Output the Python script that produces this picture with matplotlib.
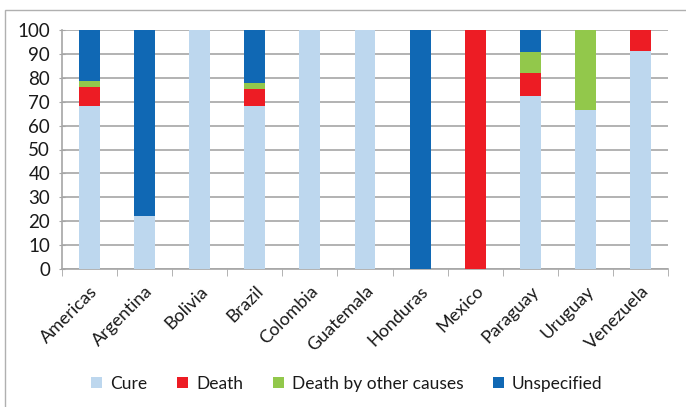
import numpy as np
import matplotlib.pyplot as plt
from matplotlib.patches import Rectangle

countries = ["Americas", "Argentina", "Bolivia", "Brazil", "Colombia", "Guatemala",
             "Honduras", "Mexico", "Paraguay", "Uruguay", "Venezuela"]
cure = [68, 22, 100, 68, 100, 100, 0, 0, 72.5, 66.7, 91.3]
death = [8, 0, 0, 7.5, 0, 0, 0, 100, 9.5, 0, 8.7]
death_other = [2.5, 0, 0, 2.5, 0, 0, 0, 0, 9, 33.3, 0]
unspecified = [21.5, 78, 0, 22, 0, 0, 100, 0, 9, 0, 0]

series = [("Cure", cure, "#bdd7ee"),
          ("Death", death, "#ed1c24"),
          ("Death by other causes", death_other, "#92c84b"),
          ("Unspecified", unspecified, "#1068b4")]

plt.rcParams['font.family'] = ['Lato', 'DejaVu Sans']

fig = plt.figure(figsize=(6.86, 4.07), dpi=100)
ax = fig.add_axes([62 / 686, 1 - 269 / 407, 606 / 686, 239 / 407])

# outer border of the chart area
fig.patches.append(Rectangle((5 / 686, -0.01), 1.02, 1 - 10 / 407 + 0.01, transform=fig.transFigure,
                             fill=False, edgecolor="#b0b0b0", linewidth=1.0))

x = np.arange(len(countries))
bottom = np.zeros(len(countries))
for name, vals, color in series:
    vals = np.array(vals, dtype=float)
    ax.bar(x, vals, 0.38, bottom=bottom, color=color, label=name, zorder=3)
    bottom += vals

ax.set_xlim(-0.5, len(countries) - 0.5)
ax.set_ylim(0, 100)
ax.set_yticks(np.arange(0, 101, 10))
ax.yaxis.grid(True, color="#a6a6a6", linewidth=1.2, zorder=0)
ax.set_xticks(x)
ax.set_xticklabels(countries, rotation=45, ha="right", rotation_mode="anchor", fontsize=13,
                   color="#1a1a1a")
ax.set_xticks(np.arange(-0.5, len(countries)), minor=True)
ax.tick_params(axis="x", which="major", length=0, pad=10)
ax.tick_params(axis="x", which="minor", length=5, color="#a6a6a6", direction="out")
ax.tick_params(axis="y", length=5, color="#a6a6a6", labelsize=13.5, labelcolor="#1a1a1a",
               direction="inout", pad=6)
for side in ["top", "right"]:
    ax.spines[side].set_visible(False)
ax.spines["left"].set_color("#a6a6a6")
ax.spines["bottom"].set_color("#a6a6a6")
ax.spines["left"].set_linewidth(1.2)
ax.spines["bottom"].set_linewidth(1.2)

leg = ax.legend(loc="center", bbox_to_anchor=(0.47, -0.48), ncol=4, frameon=False,
                fontsize=12.5, handlelength=0.65, handleheight=0.65, handletextpad=0.45,
                columnspacing=1.7)
for t in leg.get_texts():
    t.set_color("#1a1a1a")

plt.savefig("out.png", dpi=100)
plt.close()
